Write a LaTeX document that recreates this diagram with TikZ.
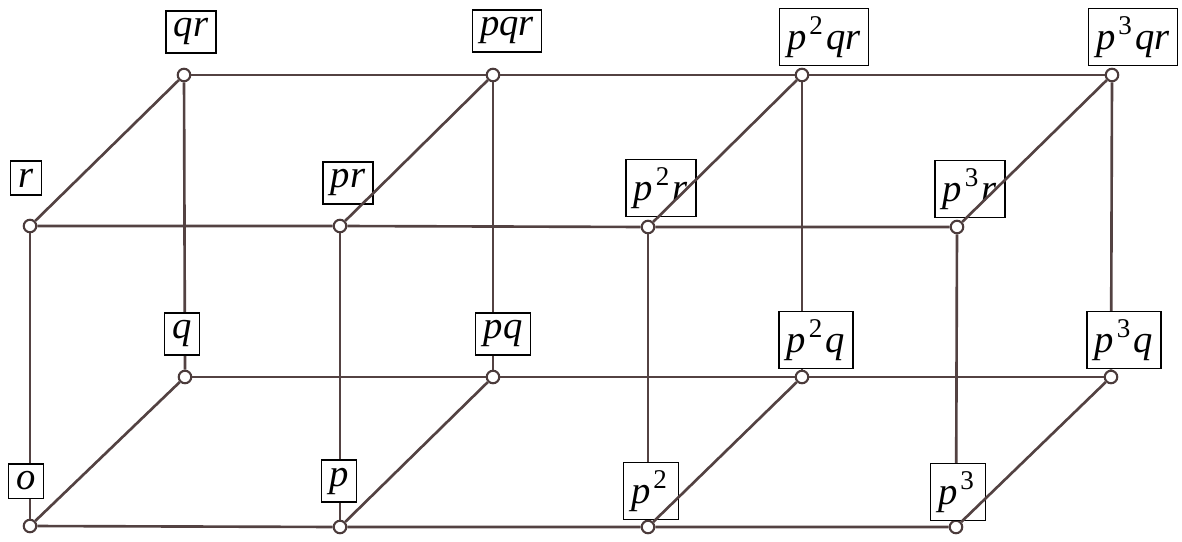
\documentclass[tikz,border=0pt]{standalone}
\usepackage{fontspec}
\setmainfont{Liberation Serif}[ItalicFont=Liberation Serif Italic]
\usepackage{tikz}
\definecolor{edgecol}{HTML}{534242}
\newcommand{\pw}[1]{\kern1.5pt\raisebox{0.1ex}{\textsuperscript{\upshape #1}}\kern1.5pt}
\tikzset{
  vertex/.style={circle, draw=edgecol!90!black, fill=white, line width=1.2pt,
                 minimum size=0.25cm, inner sep=0pt},
  divlabel/.style={draw, fill=white, line width=0.8pt, inner sep=4.5pt,
                   font=\fontsize{22}{26}\selectfont\itshape},
  edge/.style={edgecol, line width=1.5pt},
}

\begin{document}
\begin{tikzpicture}[x=0.02cm, y=-0.02cm]
    \useasboundingbox (0,0) rectangle (1182,541);
    % vertices, front bottom / back bottom / front top / back top
    \node[vertex] (o)    at (30, 526)  {};
    \node[vertex] (p)    at (340, 527) {};
    \node[vertex] (p2)   at (648, 527) {};
    \node[vertex] (p3)   at (956, 527) {};
    \node[vertex] (q)    at (185, 377) {};
    \node[vertex] (pq)   at (493, 377) {};
    \node[vertex] (p2q)  at (802, 377) {};
    \node[vertex] (p3q)  at (1111, 377) {};
    \node[vertex] (r)    at (30, 226)  {};
    \node[vertex] (pr)   at (340, 226) {};
    \node[vertex] (p2r)  at (648, 227) {};
    \node[vertex] (p3r)  at (957, 227) {};
    \node[vertex] (qr)   at (184, 75)  {};
    \node[vertex] (pqr)  at (493, 75)  {};
    \node[vertex] (p2qr) at (802, 75)  {};
    \node[vertex] (p3qr) at (1112, 75) {};
    % multiplying by p
    \draw[edge] (o) -- (p) -- (p2) -- (p3);
    \draw[edge] (q) -- (pq) -- (p2q) -- (p3q);
    \draw[edge] (r) -- (pr) -- (p2r) -- (p3r);
    \draw[edge] (qr) -- (pqr) -- (p2qr) -- (p3qr);
    % multiplying by r
    \draw[edge] (o) -- (r);
    \draw[edge] (p) -- (pr);
    \draw[edge] (p2) -- (p2r);
    \draw[edge] (p3) -- (p3r);
    \draw[edge] (q) -- (qr);
    \draw[edge] (pq) -- (pqr);
    \draw[edge] (p2q) -- (p2qr);
    \draw[edge] (p3q) -- (p3qr);
    % labels
    \node[divlabel] (lr)    at (26, 178)   {r};
    \node[divlabel] (lqr)   at (191, 32)   {qr};
    \node[divlabel] (lpr)   at (348, 183)  {pr};
    \node[divlabel] (lpqr)  at (507, 31)   {pqr};
    \node[divlabel] (lp2r)  at (661, 188)  {p\pw{2}r};
    \node[divlabel] (lp2qr) at (824, 37)   {p\pw{2}qr};
    \node[divlabel] (lp3r)  at (970, 189)  {p\pw{3}r};
    \node[divlabel] (lp3qr) at (1133, 37)  {p\pw{3}qr};
    \node[divlabel] (lq)    at (182, 334)  {q};
    \node[divlabel] (lpq)   at (503, 334)  {pq};
    \node[divlabel] (lp2q)  at (816, 340)  {p\pw{2}q};
    \node[divlabel] (lp3q)  at (1124, 340) {p\pw{3}q};
    \node[divlabel] (lo)    at (26, 481)   {o};
    \node[divlabel] (lp)    at (339, 481)  {p};
    \node[divlabel] (lp2)   at (651, 491)  {p\pw{2}};
    \node[divlabel] (lp3)   at (958, 492)  {p\pw{3}};
    % multiplying by q
    \draw[edge] (o) -- (q);
    \draw[edge] (p) -- (pq);
    \draw[edge] (p2) -- (p2q);
    \draw[edge] (p3) -- (p3q);
    \draw[edge] (r) -- (qr);
    \draw[edge] (pr) -- (pqr);
    \draw[edge] (p2r) -- (p2qr);
    \draw[edge] (p3r) -- (p3qr);
\end{tikzpicture}
\end{document}
